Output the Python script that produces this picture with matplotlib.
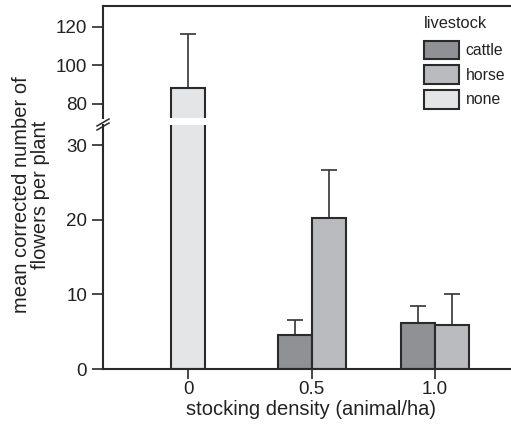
import numpy as np
import matplotlib.pyplot as plt
from matplotlib.patches import Patch

plt.rcParams['font.family'] = ['Liberation Sans', 'DejaVu Sans']

densities = ["0", "0.5", "1.0"]
groups = ["cattle", "horse", "none"]
colors = {"cattle": "#909195", "horse": "#babbbe", "none": "#e4e5e7"}

# mean and upper error per group at each density (None = not sampled)
means = {
    "cattle": [None, 4.5, 6.2],
    "horse": [None, 20.3, 5.9],
    "none": [88.3, None, None],
}
errors = {
    "cattle": [None, 2.1, 2.3],
    "horse": [None, 6.4, 4.2],
    "none": [27.8, None, None],
}

W, H = 511, 432
fig = plt.figure(figsize=(W / 100, H / 100), dpi=100)

def px_axes(x0, y_top, x1, y_bot):
    return fig.add_axes([x0 / W, 1 - y_bot / H, (x1 - x0) / W, (y_bot - y_top) / H])

ax_hi = px_axes(103, 6, 520, 118)
ax_lo = px_axes(103, 125, 520, 369)

width = 0.276
xpos = np.arange(len(densities))
edge = "#2a2a2a"

for ax in (ax_lo, ax_hi):
    for g in groups:
        for i, (m, e) in enumerate(zip(means[g], errors[g])):
            if m is None:
                continue
            if g == "none":
                x = xpos[i]
            elif g == "cattle":
                x = xpos[i] - width / 2
            else:
                x = xpos[i] + width / 2
            ax.bar(x, m, width, color=colors[g], edgecolor=edge, linewidth=1.5, zorder=2)
            ax.errorbar(x, m, yerr=[[0], [e]], fmt="none", ecolor="#333333",
                        elinewidth=1.2, capsize=6, capthick=1.2, zorder=1)
    ax.set_xlim(-0.691, 2.69)
    ax.spines["right"].set_visible(False)
    for s in ax.spines.values():
        s.set_linewidth(1.5)
        s.set_color("#2a2a2a")
    ax.tick_params(axis="both", labelsize=13.5, length=8, width=1.2, color="#2a2a2a",
                   labelcolor="#222222")

ax_lo.set_ylim(0, 32.75)
ax_lo.set_yticks([0, 10, 20, 30])
ax_lo.spines["top"].set_visible(False)
ax_lo.set_xticks(xpos)
ax_lo.set_xticklabels(densities)
ax_lo.tick_params(axis="x", length=7, pad=2)
ax_lo.set_xlabel("stocking density (animal/ha)", fontsize=14.5, labelpad=1, color="#222222")

ax_hi.set_ylim(72.7, 130.9)
ax_hi.set_yticks([80, 100, 120])
ax_hi.spines["bottom"].set_visible(False)
ax_hi.set_xticks([])

# axis break marks
for dy in (0, 4):
    fig.add_artist(plt.Line2D([97 / W, 109 / W], [1 - (126 + dy) / H, 1 - (119 + dy) / H],
                              color="#2a2a2a", linewidth=1.1))

fig.text(31 / W, 1 - 195 / H, "mean corrected number of\nflowers per plant",
         rotation=90, ha="center", va="center", fontsize=14.5, linespacing=1.05,
         color="#222222")

handles = [Patch(facecolor=colors[g], edgecolor=edge, linewidth=1.5, label=g) for g in groups]
leg = ax_hi.legend(handles=handles, title="livestock", loc="upper left",
                   bbox_to_anchor=(424 / W, 1 - 16 / H), bbox_transform=fig.transFigure,
                   frameon=False, fontsize=11.3, title_fontsize=11.8,
                   handlelength=2.2, handleheight=1.45, handletextpad=0.45,
                   labelspacing=0.38, borderaxespad=0, borderpad=0)
for t in leg.get_texts():
    t.set_color("#222222")
leg.get_title().set_color("#222222")
leg._legend_box.align = "left"
leg._legend_box.sep = 7

fig.savefig("out.png", dpi=100)
